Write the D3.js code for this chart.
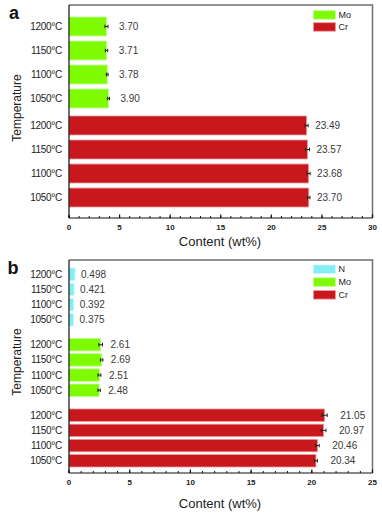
<!DOCTYPE html>
<html><head><meta charset="utf-8">
<script src="https://cdn.jsdelivr.net/npm/d3@7"></script>
<style>body{margin:0;background:#fff}svg{display:block}text{font-family:"Liberation Sans",Arial,sans-serif}</style>
</head><body><svg id="c" width="382" height="514"></svg>
<script>
const temps = ["1200°C","1150°C","1100°C","1050°C"];
// panel a
const moA = [3.70, 3.71, 3.78, 3.90];
const moAErr = [0.15, 0.12, 0.08, 0.1];
const crA = [23.49, 23.57, 23.68, 23.70];
const crAErr = [0.15, 0.2, 0.15, 0.12];
const ticksA = [0, 5, 10, 15, 20, 25, 30];
// panel b
const nB = [0.498, 0.421, 0.392, 0.375];
const nBErr = [0, 0, 0, 0];
const moB = [2.61, 2.69, 2.51, 2.48];
const moBErr = [0.15, 0.1, 0.12, 0.1];
const crB = [21.05, 20.97, 20.46, 20.34];
const crBErr = [0.22, 0.2, 0.15, 0.12];
const ticksB = [0, 5, 10, 15, 20, 25];

const colors = {N: "#82eff7", Mo: "#7efb00", Cr: "#c8171d"};
const edges = {N: "#c8f8fb", Mo: "#c0fd90", Cr: "#ec9a9a"};

const svg = d3.select("#c");

function panel(o) {
  const g = svg.append("g");
  const x = d3.scaleLinear().domain([0, o.max]).range([69, 372.5]);
  const outer = d3.scaleBand().domain(o.groups.map(d => d.name)).range(o.yr).paddingInner(o.gp);
  const inner = d3.scaleBand().domain(temps).range([0, outer.bandwidth()]).paddingInner(o.ip);

  g.append("path").attr("d", `M69,${o.top}H${x(o.max)}V${o.bottom}`)
    .attr("fill", "none").attr("stroke", "#6f6f6f").attr("stroke-width", 1.5);

  o.groups.forEach(grp => {
    const y0 = outer(grp.name);
    const gg = g.append("g");
    gg.selectAll("rect").data(grp.vals).join("rect")
      .attr("x", x(0)).attr("y", (d, i) => y0 + inner(temps[i]))
      .attr("width", d => x(d) - x(0)).attr("height", inner.bandwidth())
      .attr("fill", colors[grp.name]).attr("stroke", edges[grp.name]).attr("stroke-width", 0.8);
    grp.vals.forEach((v, i) => {
      const e = grp.err[i];
      const cy = y0 + inner(temps[i]) + inner.bandwidth() / 2;
      if (e > 0) {
        gg.append("path").attr("d",
          `M${x(v - e)},${cy}H${x(v + e)}M${x(v - e)},${cy - 1.8}V${cy + 1.8}M${x(v + e)},${cy - 1.8}V${cy + 1.8}`)
          .attr("stroke", "#222").attr("stroke-width", 1).attr("fill", "none");
      }
      gg.append("text").attr("x", x(v + e) + grp.off).attr("y", cy).attr("dy", "0.35em")
        .attr("font-size", 10).attr("fill", "#3a3a3a").text(grp.lab(v));
      gg.append("text").attr("x", 62).attr("y", cy).attr("dy", "0.35em")
        .attr("text-anchor", "end").attr("font-size", 10).attr("letter-spacing", -0.3)
        .attr("fill", "#222").text(temps[i]);
    });
  });

  const ax = g.append("g").attr("transform", `translate(0,${o.bottom})`);
  ax.append("line").attr("x1", 69).attr("x2", x(o.max)).attr("stroke", "#111").attr("stroke-width", 1.2);
  ax.selectAll(".mn").data(d3.range(0, o.max + 0.01, 1)).join("line")
    .attr("x1", d => x(d)).attr("x2", d => x(d)).attr("y1", 0).attr("y2", -2)
    .attr("stroke", "#111").attr("stroke-width", 1);
  ax.selectAll(".mj").data(o.ticks).join("line")
    .attr("x1", d => x(d)).attr("x2", d => x(d)).attr("y1", 0).attr("y2", -3.5)
    .attr("stroke", "#111").attr("stroke-width", 1.2);
  ax.selectAll("text").data(o.ticks).join("text")
    .attr("x", d => x(d)).attr("y", 11.5).attr("text-anchor", "middle")
    .attr("font-size", 8).attr("font-weight", "bold").attr("fill", "#222").text(d => d);
  g.append("line").attr("x1", 69).attr("x2", 69).attr("y1", o.top).attr("y2", o.bottom)
    .attr("stroke", "#111").attr("stroke-width", 1.2);

  g.append("text").attr("x", 220).attr("y", o.xtY).attr("text-anchor", "middle")
    .attr("font-size", 13).attr("fill", "#222").text("Content (wt%)");
  g.append("text").attr("transform", `translate(21,${o.ytY}) rotate(-90)`).attr("text-anchor", "middle")
    .attr("font-size", 12).attr("fill", "#222").text("Temperature");
  g.append("text").attr("x", o.lx).attr("y", o.ly).attr("font-size", 18).attr("font-weight", "bold")
    .attr("fill", "#111").text(o.letter);

  o.groups.forEach((grp, i) => {
    const ly = o.legY + i * o.legStep;
    g.append("rect").attr("x", 313.5).attr("y", ly).attr("width", 22).attr("height", 8.5)
      .attr("fill", colors[grp.name]).attr("stroke", edges[grp.name]).attr("stroke-width", 0.8);
    g.append("text").attr("x", 338.5).attr("y", ly + 4.3).attr("dy", "0.35em")
      .attr("font-size", 9).attr("fill", "#222").text(grp.name);
  });
}

const f2 = v => v.toFixed(2), f3 = v => v.toFixed(3);

panel({
  max: 30, ticks: ticksA, top: 5, bottom: 218, yr: [17, 207], gp: 0.081, ip: 0.21,
  groups: [
    {name: "Mo", vals: moA, err: moAErr, off: 11, lab: f2},
    {name: "Cr", vals: crA, err: crAErr, off: 7, lab: f2}
  ],
  xtY: 246, ytY: 108, letter: "a", lx: 9, ly: 18.5, legY: 10.7, legStep: 12
});

panel({
  max: 25, ticks: ticksB, top: 260, bottom: 473, yr: [268, 467], gp: 0.177, ip: 0.18,
  groups: [
    {name: "N", vals: nB, err: nBErr, off: 6, lab: f3},
    {name: "Mo", vals: moB, err: moBErr, off: 8, lab: f2},
    {name: "Cr", vals: crB, err: crBErr, off: 13, lab: f2}
  ],
  xtY: 508, ytY: 362, letter: "b", lx: 7.5, ly: 274, legY: 265, legStep: 12.8
});
</script></body></html>
